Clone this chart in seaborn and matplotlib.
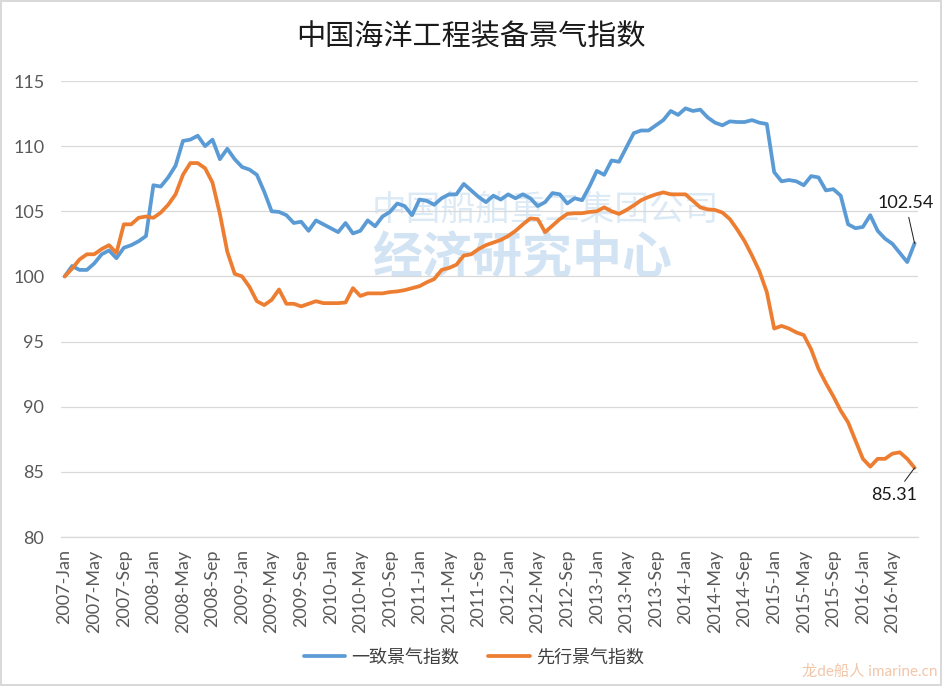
import matplotlib
matplotlib.use('Agg')
import matplotlib.pyplot as plt
import numpy as np
import pandas as pd
import seaborn as sns

# monthly categories, 2007-Jan .. 2016-Aug
months = pd.date_range('2007-01-01', '2016-08-01', freq='MS')
month_labels = [m.strftime('%Y-%b') for m in months]

# 一致景气指数
coincident = [
    100.0, 100.8, 100.5, 100.5, 101.0, 101.7, 102.0, 101.4, 102.2, 102.4, 102.7, 103.1,
    107.0, 106.9, 107.6, 108.5, 110.4, 110.5, 110.8, 110.0, 110.5, 109.0, 109.8, 109.0,
    108.4, 108.2, 107.8, 106.5, 105.0, 104.95, 104.7, 104.1, 104.2, 103.5, 104.3, 104.0,
    103.7, 103.4, 104.1, 103.3, 103.5, 104.3, 103.85, 104.6, 104.95, 105.6, 105.4, 104.7,
    105.9, 105.8, 105.5, 106.0, 106.3, 106.3, 107.1, 106.6, 106.1, 105.7, 106.2, 105.9,
    106.3, 106.0, 106.3, 106.0, 105.4, 105.7, 106.4, 106.3, 105.6, 106.0, 105.85, 106.9,
    108.1, 107.8, 108.9, 108.8, 109.9, 111.0, 111.2, 111.2, 111.6, 112.0, 112.7, 112.4,
    112.9, 112.7, 112.8, 112.2, 111.8, 111.6, 111.9, 111.85, 111.85, 112.0, 111.8, 111.7,
    108.0, 107.3, 107.4, 107.3, 107.0, 107.7, 107.6, 106.6, 106.7, 106.2, 104.0, 103.7,
    103.8, 104.7, 103.5, 102.9, 102.5, 101.8, 101.1, 102.54,
]

# 先行景气指数
leading = [
    100.0, 100.6, 101.3, 101.7, 101.7, 102.1, 102.4, 101.8, 104.0, 104.0, 104.5, 104.6,
    104.5, 104.9, 105.5, 106.3, 107.8, 108.7, 108.7, 108.3, 107.2, 104.8, 101.9, 100.2,
    100.0, 99.2, 98.1, 97.8, 98.2, 99.0, 97.9, 97.9, 97.7, 97.9, 98.1, 97.95,
    97.95, 97.95, 98.0, 99.1, 98.5, 98.7, 98.7, 98.7, 98.8, 98.85, 98.95, 99.1,
    99.25, 99.55, 99.8, 100.5, 100.65, 100.9, 101.6, 101.7, 102.1, 102.4, 102.6, 102.8,
    103.1, 103.5, 104.0, 104.45, 104.4, 103.4, 103.9, 104.4, 104.8, 104.85, 104.85, 104.95,
    105.0, 105.3, 105.0, 104.8, 105.1, 105.45, 105.85, 106.1, 106.3, 106.45, 106.3, 106.3,
    106.3, 105.8, 105.3, 105.15, 105.1, 104.9, 104.4, 103.6, 102.7, 101.6, 100.4, 98.8,
    96.0, 96.2, 96.0, 95.7, 95.5, 94.4, 92.9, 91.8, 90.8, 89.7, 88.8, 87.4,
    86.0, 85.4, 86.0, 86.0, 86.4, 86.5, 86.0, 85.31,
]

series_names = ['一致景气指数', '先行景气指数']
colors = {'一致景气指数': '#5B9BD5', '先行景气指数': '#ED7D31'}

sns.set_theme(style='white')
plt.rcParams['font.family'] = ['Lato', 'Noto Sans CJK SC', 'DejaVu Sans']

df = pd.DataFrame({
    'idx': np.arange(len(months)),
    series_names[0]: coincident,
    series_names[1]: leading,
})
df = df.melt(id_vars='idx', var_name='series', value_name='value')

fig = plt.figure(figsize=(9.42, 6.86), dpi=100)
fig.patch.set_edgecolor('#D9D9D9')
fig.patch.set_linewidth(1.5)
ax = fig.add_axes([61 / 942, 149 / 686, (918.3 - 61) / 942, 456 / 686])

sns.lineplot(data=df, x='idx', y='value', hue='series', hue_order=series_names,
             palette=colors, linewidth=2.7, ax=ax)

ax.set_xlim(-0.5, len(months) - 0.5)
ax.set_ylim(80, 115)
ax.set_yticks(range(80, 116, 5))
ax.yaxis.grid(True, color='#D9D9D9', linewidth=0.9)
ax.set_axisbelow(True)
for s in ['left', 'top', 'right']:
    ax.spines[s].set_visible(False)
ax.spines['bottom'].set_color('#D9D9D9')
ax.spines['bottom'].set_linewidth(0.9)

ax.set_xticks(np.arange(0, len(months), 4))
ax.set_xticklabels(month_labels[::4], rotation=90)
ax.set_xticks(np.arange(-0.5, len(months), 4), minor=True)
ax.tick_params(axis='x', which='major', length=0, pad=9, labelsize=13, labelcolor='#595959')
ax.tick_params(axis='x', which='minor', length=5, color='#D9D9D9', width=0.9, direction='out')
ax.tick_params(axis='y', length=0, pad=12, labelsize=13, labelcolor='#595959')
ax.set_xlabel('')
ax.set_ylabel('')

handles, labels = ax.get_legend_handles_labels()
ax.legend(handles, labels, loc='center', bbox_to_anchor=(0.503, 1 - 657 / 686),
          bbox_transform=fig.transFigure, ncol=2, frameon=False, fontsize=13,
          handlelength=2.3, handletextpad=0.35, columnspacing=1.6,
          labelcolor='#404040')

fig.text(0.5, 1 - 37 / 686, '中国海洋工程装备景气指数', ha='center', va='center',
         fontsize=21, color='#1a1a1a')

# end-point data labels
last = len(months) - 1
ax.annotate(f'{coincident[-1]:.2f}', xy=(last, coincident[-1]), xytext=(-9, 40),
            textcoords='offset pixels', ha='center', va='center', fontsize=13,
            color='#1a1a1a',
            arrowprops=dict(arrowstyle='-', color='#1a1a1a', lw=0.7, shrinkA=2, shrinkB=0))
ax.annotate(f'{leading[-1]:.2f}', xy=(last, leading[-1]), xytext=(-20, -27),
            textcoords='offset pixels', ha='center', va='center', fontsize=13,
            color='#1a1a1a',
            arrowprops=dict(arrowstyle='-', color='#1a1a1a', lw=0.7, shrinkA=2, shrinkB=0))

# faint watermarks
ax.text(372 / 942, 1 - 210 / 686, '中国船舶重工集团公司', transform=fig.transFigure,
        ha='left', va='center', fontsize=25, color='#9DC3E6', alpha=0.35, zorder=0.5)
ax.text(372 / 942, 1 - 258 / 686, '经济研究中心', transform=fig.transFigure,
        ha='left', va='center', fontsize=36, fontweight='bold', color='#9DC3E6',
        alpha=0.45, zorder=0.5)
fig.text(0.995, 1 - 672 / 686, '龙de船人 imarine.cn', ha='right', va='center',
         fontsize=11, color='#E8A070', alpha=0.6)

fig.savefig('out.png', dpi=100)
